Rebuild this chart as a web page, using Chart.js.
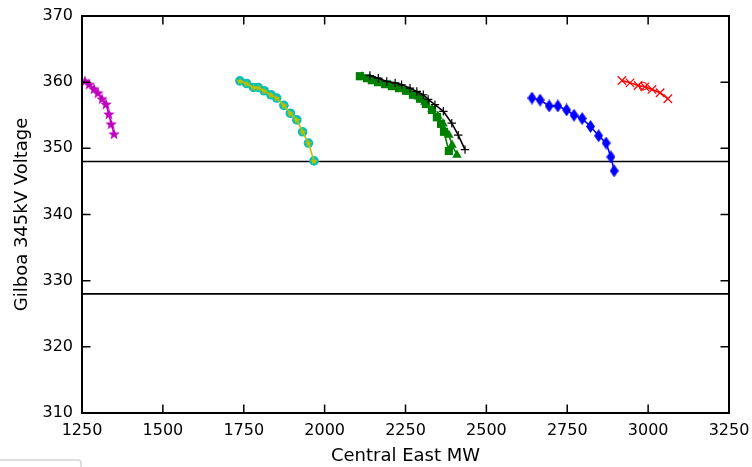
<!DOCTYPE html>
<html>
<head>
<meta charset="utf-8">
<script src="https://cdn.jsdelivr.net/npm/chart.js@4"></script>
<style>
body { margin: 0; background: #fff; }
#wrap { width: 752px; height: 467px; }
</style>
</head>
<body>
<div id="wrap"><canvas id="myChart" width="752" height="467"></canvas></div>
<script>
// axis ticks
const xTicks = [1250, 1500, 1750, 2000, 2250, 2500, 2750, 3000, 3250];
const yTicks = [310, 320, 330, 340, 350, 360, 370];

// limit lines
const limitX = [1250, 3250];
const limitHigh = [348, 348];
const limitLow = [328, 328];

// series
const magentaX = [1259, 1272, 1287, 1299, 1312, 1324, 1333, 1340, 1349];
const magentaY = [360.2, 359.7, 359.0, 358.4, 357.5, 356.7, 355.2, 353.7, 352.2];

const cyanX = [1738, 1759, 1780, 1795, 1813, 1834, 1852, 1874, 1894, 1914, 1932, 1950, 1967];
const cyanY = [360.2, 359.8, 359.2, 359.2, 358.7, 358.1, 357.6, 356.5, 355.3, 354.3, 352.5, 350.8, 348.1];

const squareX = [2109, 2131, 2146, 2165, 2187, 2208, 2230, 2252, 2273, 2295, 2313, 2332, 2347, 2360, 2369, 2384];
const squareY = [360.9, 360.6, 360.3, 360.0, 359.7, 359.4, 359.1, 358.7, 358.1, 357.5, 356.7, 355.8, 354.7, 353.7, 352.5, 349.6];

const triX = [2116, 2140, 2171, 2202, 2233, 2264, 2289, 2310, 2332, 2350, 2366, 2384, 2394, 2409];
const triY = [360.8, 360.5, 360.0, 359.6, 359.1, 358.5, 357.8, 357.0, 355.9, 354.9, 353.7, 352.0, 350.5, 349.0];

const plusX = [2140, 2166, 2192, 2218, 2238, 2264, 2285, 2305, 2320, 2341, 2367, 2393, 2413, 2434];
const plusY = [361.0, 360.6, 360.1, 359.9, 359.6, 359.1, 358.6, 358.1, 357.4, 356.6, 355.6, 353.8, 352.0, 349.8];

const blueX = [2641, 2666, 2694, 2721, 2748, 2771, 2796, 2822, 2847, 2870, 2885, 2895];
const blueY = [357.6, 357.3, 356.4, 356.4, 355.8, 355.0, 354.5, 353.3, 351.9, 350.8, 348.7, 346.6];

const redX = [2919, 2944, 2969, 2990, 3012, 3037, 3061];
const redY = [360.25, 359.9, 359.5, 359.3, 358.9, 358.4, 357.5];

const redCircleX = [2984];
const redCircleY = [359.4];

function pts(xs, ys) {
    return xs.map((x, i) => ({ x: x, y: ys[i] }));
}

function starImage(size, fill)
{
    let c = document.createElement('canvas');
    c.width = size; c.height = size;
    let g = c.getContext('2d');
    let cx = size / 2, cy = size / 2 + size * 0.05;
    let ro = size / 2, ri = ro * 0.42;
    g.beginPath();
    for (let i = 0; i < 10; i++) {
        let r = i % 2 == 0 ? ro : ri;
        let a = -Math.PI / 2 + i * Math.PI / 5;
        let px = cx + r * Math.cos(a), py = cy + r * Math.sin(a);
        if (i == 0) g.moveTo(px, py); else g.lineTo(px, py);
    }
    g.closePath();
    g.fillStyle = fill;
    g.fill();
    return c;
}

function diamondImage(w, h, fill)
{
    let c = document.createElement('canvas');
    c.width = w; c.height = h;
    let g = c.getContext('2d');
    g.beginPath();
    g.moveTo(w / 2, 0);
    g.lineTo(w, h / 2);
    g.lineTo(w / 2, h);
    g.lineTo(0, h / 2);
    g.closePath();
    g.fillStyle = fill;
    g.fill();
    return c;
}

const magentaStar = starImage(12, '#bf00bf');
const yellowStar = starImage(8, '#bfbf00');
const blueDiamond = diamondImage(9, 13, '#0000ff');

// inward ticks, frame and the clipped legend box
const framePlugin = {
    id: 'frame',
    afterDraw(chart) {
        const ctx = chart.ctx;
        const a = chart.chartArea;
        const xs = chart.scales.x, ys = chart.scales.y;
        const len = 8.5;
        ctx.save();
        ctx.strokeStyle = '#000';
        ctx.lineWidth = 1.5;
        ctx.beginPath();
        xTicks.forEach(v => {
            let px = xs.getPixelForValue(v);
            ctx.moveTo(px, a.bottom); ctx.lineTo(px, a.bottom - len);
            ctx.moveTo(px, a.top); ctx.lineTo(px, a.top + len);
        });
        yTicks.forEach(v => {
            let py = ys.getPixelForValue(v);
            ctx.moveTo(a.left, py); ctx.lineTo(a.left + len, py);
            ctx.moveTo(a.right, py); ctx.lineTo(a.right - len, py);
        });
        ctx.stroke();
        ctx.lineWidth = 2;
        ctx.strokeRect(a.left, a.top, a.right - a.left, a.bottom - a.top);

        ctx.strokeStyle = '#d6d6d6';
        ctx.lineWidth = 1.5;
        ctx.beginPath();
        ctx.moveTo(-5, 460);
        ctx.lineTo(78, 460);
        ctx.quadraticCurveTo(81, 460, 81, 463);
        ctx.lineTo(81, 470);
        ctx.stroke();
        ctx.restore();
    }
};

function lineSet(data, color, extra) {
    return Object.assign({
        data: data,
        borderColor: color,
        backgroundColor: color,
        borderWidth: 1.6,
        pointBorderWidth: 1.5,
        showLine: true,
        fill: false,
        tension: 0
    }, extra);
}

const datasets = [
    lineSet(pts(limitX, limitHigh), '#000', { pointRadius: 0, borderWidth: 1.6, order: 10 }),
    lineSet(pts(limitX, limitLow), '#000', { pointRadius: 0, borderWidth: 1.6, order: 10 }),
    lineSet(pts(magentaX, magentaY), '#bf00bf', { pointStyle: magentaStar, order: 9 }),
    lineSet(pts(cyanX, cyanY), '#00bfbf', { showLine: false, pointStyle: 'circle', pointRadius: 4.8, pointBorderWidth: 0, order: 8 }),
    lineSet(pts(cyanX, cyanY), '#bfbf00', { pointStyle: yellowStar, order: 7 }),
    lineSet(pts(squareX, squareY), '#008000', { pointStyle: 'rect', pointRadius: 5.8, pointBorderWidth: 0, order: 6 }),
    lineSet(pts(triX, triY), '#008000', { pointStyle: 'triangle', pointRadius: 5.5, pointBorderWidth: 0, order: 5 }),
    lineSet(pts(plusX, plusY), '#000', { pointStyle: 'cross', pointRadius: 4.2, pointBorderWidth: 1.2, order: 4 }),
    lineSet(pts(blueX, blueY), '#0000ff', { pointStyle: blueDiamond, order: 3 }),
    lineSet(pts(redX, redY), '#ff0000', { pointStyle: 'crossRot', pointRadius: 6, pointBorderWidth: 1.2, order: 2 }),
    lineSet(pts(redCircleX, redCircleY), '#ff0000', { showLine: false, pointStyle: 'circle', pointRadius: 4, backgroundColor: 'rgba(0,0,0,0)', pointBorderWidth: 1, order: 1 })
];

const font = { family: 'DejaVu Sans', size: 16 };

function noPad(s) {
    s.paddingLeft = 0; s.paddingRight = 0;
    s.paddingTop = 0; s.paddingBottom = 0;
}

const ctx = document.getElementById('myChart').getContext('2d');
const myChart = new Chart(ctx, {
    type: 'scatter',
    data: { datasets: datasets },
    options: {
        responsive: false,
        animation: false,
        layout: { padding: { top: 16, right: 23, left: 0, bottom: 0 } },
        plugins: { legend: { display: false }, tooltip: { enabled: false } },
        scales: {
            x: {
                type: 'linear',
                min: 1250, max: 3250,
                afterBuildTicks: s => { s.ticks = xTicks.map(v => ({ value: v })); },
                afterFit: s => { s.height = 54; noPad(s); },
                grid: { display: false, drawTicks: false },
                border: { display: false },
                ticks: { color: '#000', font: font, padding: 8.5, maxRotation: 0, callback: v => String(v) },
                title: { display: true, text: 'Central East MW', color: '#000', font: { family: 'DejaVu Sans', size: 18 }, padding: { top: 0, bottom: 0 } }
            },
            y: {
                type: 'linear',
                min: 310, max: 370,
                afterBuildTicks: s => { s.ticks = yTicks.map(v => ({ value: v })); },
                afterFit: s => { s.width = 82; noPad(s); },
                grid: { display: false, drawTicks: false },
                border: { display: false },
                ticks: { color: '#000', font: font, padding: 9, callback: v => String(v) },
                title: { display: true, text: 'Gilboa 345kV Voltage', color: '#000', font: { family: 'DejaVu Sans', size: 18 }, padding: { top: 12, bottom: 0 } }
            }
        }
    },
    plugins: [framePlugin]
});
</script>
</body>
</html>
